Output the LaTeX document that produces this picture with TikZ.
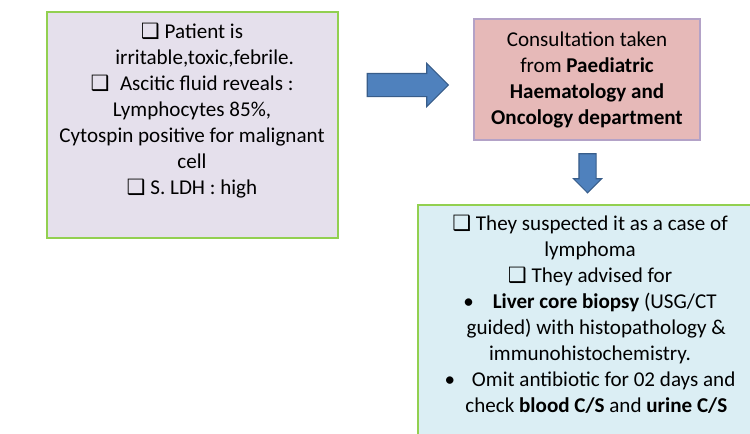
\documentclass[tikz,border=0pt]{standalone}
\usepackage{fontspec}
\setmainfont{Carlito}
\newfontfamily\boxsym{DejaVu Sans}
\usetikzlibrary{shapes.arrows,positioning}
\definecolor{lavfill}{HTML}{E5E0EC}
\definecolor{pinkfill}{HTML}{E6B9B8}
\definecolor{aquafill}{HTML}{DBEEF4}
\definecolor{greenline}{HTML}{92D050}
\definecolor{purpleline}{HTML}{B3A2C7}
\definecolor{arrowblue}{HTML}{4F81BD}
\definecolor{arrowline}{HTML}{385D8A}
\newcommand{\chk}{{\boxsym\char"2751}}
\tikzset{
    casebox/.style={draw, line width=1.1pt, inner sep=0pt},
    casetext/.style={align=center, font=\fontsize{12}{14.8}\selectfont, inner sep=0pt},
    casearrow/.style={single arrow, draw=arrowline, fill=arrowblue, line width=0.6pt,
        inner xsep=0pt}
}
\begin{document}
\begin{tikzpicture}[x=0.02cm, y=-0.02cm]
\useasboundingbox (0,0) rectangle (750,433);
\fill[white] (0,0) rectangle (750,433);
\clip (0,0) rectangle (750,433);
\node[casebox, draw=greenline, fill=lavfill, minimum width=5.82cm, minimum height=4.52cm] (findings) at (192.5,125) {};
\node[casebox, draw=purpleline, fill=pinkfill, minimum width=4.52cm, minimum height=2.42cm] (consult) at (587,79.5) {};
\node[casebox, draw=greenline, fill=aquafill, minimum width=6.84cm, minimum height=4.8cm] (advice) at (589,325) {};
\node[casetext] (findtext) at (192,111) {\chk{} Patient is\\
    \hspace*{1.2em}irritable,toxic,febrile.\\
    \chk{}\enspace Ascitic fluid reveals :\\
    Lymphocytes 85\%,\\
    Cytospin positive for malignant\\
    cell\\
    \chk{} S. LDH : high};
\node[casetext] (consulttext) at (consult.center) {Consultation taken\\
    from \textbf{Paediatric}\\
    \textbf{Haematology and}\\
    \textbf{Oncology department}};
\node[casetext] (advicetext) at (590,314) {\chk{} They suspected it as a case of\\
    lymphoma\\
    \chk{} They advised for\\
    \textbullet\hspace{0.9em}\textbf{Liver core biopsy} (USG/CT\\
    \hspace*{0.6em}guided) with histopathology \&\\
    immunohistochemistry.\\
    \textbullet\hspace{0.8em}Omit antibiotic for 02 days and\\
    \hspace*{0.6em}check \textbf{blood C/S} and \textbf{urine C/S}};
% block arrows
\node[casearrow, minimum height=1.62cm, inner ysep=0.22cm, single arrow head extend=0.2cm] (rightarrow) at (402,85) {};
\node[casearrow, rotate=-90, minimum height=0.78cm, inner ysep=0.16cm, single arrow head extend=0.11cm] (downarrow) at (587.5,169) {};
\end{tikzpicture}
\end{document}
